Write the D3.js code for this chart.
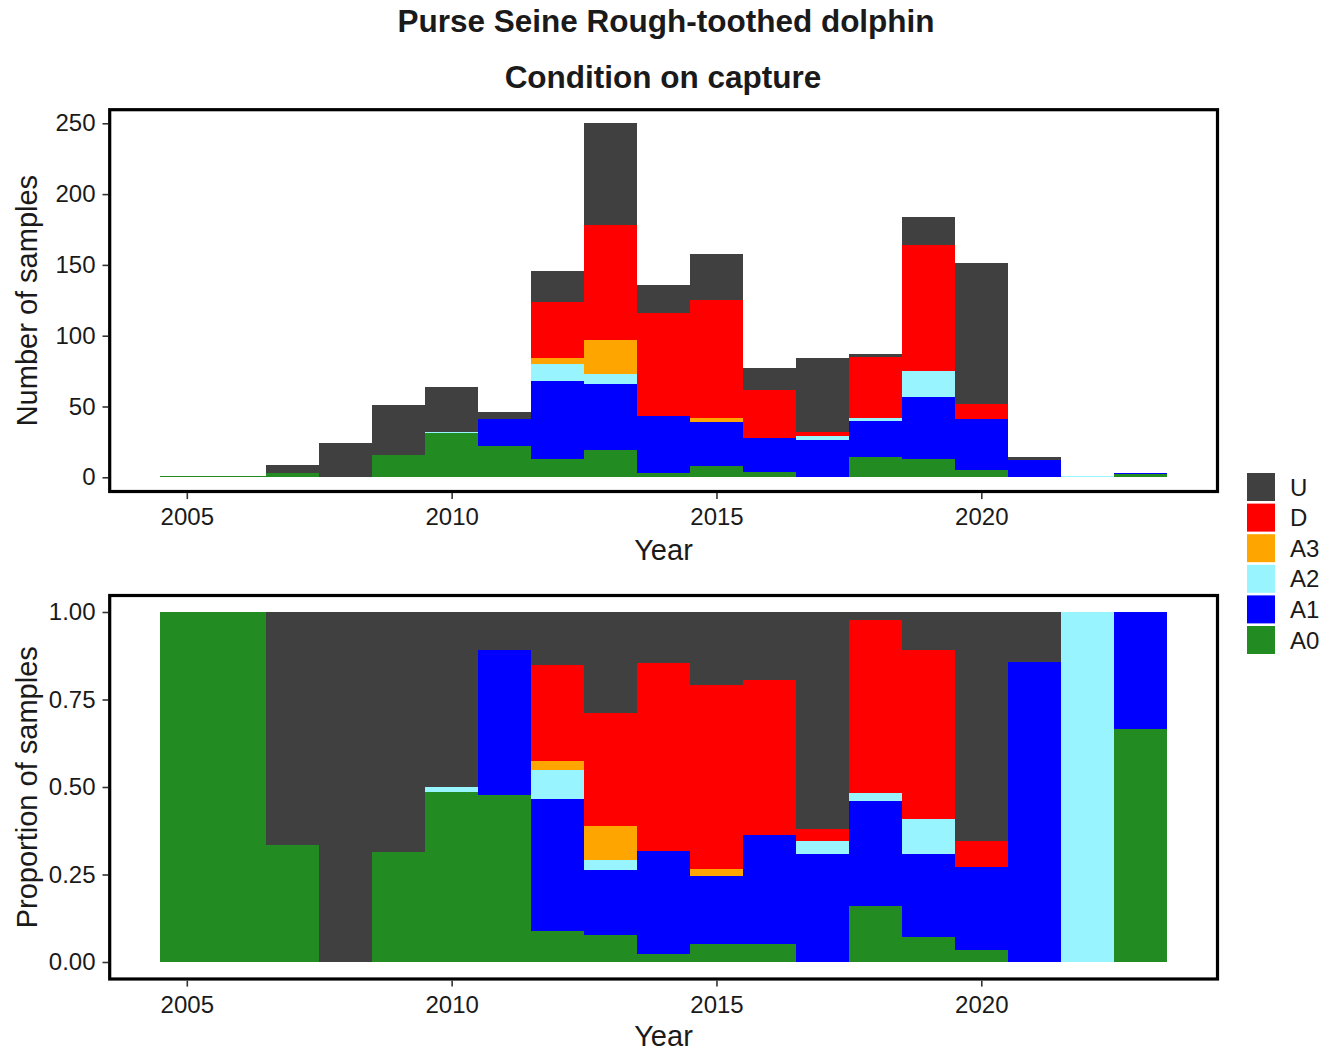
<!DOCTYPE html>
<html>
<head>
<meta charset="utf-8">
<script src="https://cdn.jsdelivr.net/npm/d3@7"></script>
<style>
  body { margin: 0; background: #fff; }
  text { font-family: "Liberation Sans", Arial, sans-serif; fill: #1a1a1a; }
</style>
</head>
<body>
<div id="chart"></div>
<script>
// counts per year, stacked bottom (A0) to top (U)
var years = [2005, 2006, 2007, 2008, 2009, 2010, 2011, 2012, 2013, 2014, 2015, 2016, 2017, 2018, 2019, 2020, 2021, 2022, 2023];
var A0 = [1, 1, 3, 0, 16, 31, 22, 13, 19, 3, 8, 4, 0, 14, 13, 5, 0, 0, 2];
var A1 = [0, 0, 0, 0, 0, 0, 19, 55, 47, 40, 31, 24, 26, 26, 44, 36, 12, 0, 1];
var A2 = [0, 0, 0, 0, 0, 1, 0, 12, 7, 0, 0, 0, 3, 2, 18, 0, 0, 1, 0];
var A3 = [0, 0, 0, 0, 0, 0, 0, 4, 24, 0, 3, 0, 0, 0, 0, 0, 0, 0, 0];
var D  = [0, 0, 0, 0, 0, 0, 0, 40, 81, 73, 83, 34, 3, 43, 89, 11, 0, 0, 0];
var U  = [0, 0, 6, 24, 35, 32, 5, 22, 72, 20, 33, 15, 52, 2, 20, 99, 2, 0, 0];

var conditions = ["A0", "A1", "A2", "A3", "D", "U"];
var condColors = ["#228B22", "#0000FF", "#98F5FF", "#FFA500", "#FF0000", "#404040"];
var xTicks = [2005, 2010, 2015, 2020];
var countTicks = [0, 50, 100, 150, 200, 250];
var propTicks = [0, 0.25, 0.5, 0.75, 1];

var series = {A0: A0, A1: A1, A2: A2, A3: A3, D: D, U: U};
var data = years.map(function(yr, i) {
    var row = {year: yr};
    conditions.forEach(function(c) { row[c] = series[c][i]; });
    return row;
});

var width = 1328, height = 1054;
var svg = d3.select("#chart").append("svg")
    .attr("width", width)
    .attr("height", height);

var color = d3.scaleOrdinal().domain(conditions).range(condColors);

var x = d3.scaleLinear()
    .domain([2003.55, 2024.45])
    .range([110, 1217]);

// panel boxes (border centres)
var panels = [
    {top: 109.7, bottom: 491.5, y: d3.scaleLinear().domain([0, 250]).range([477.3, 123.3]),
     ticks: countTicks, fmt: d3.format("d"), offset: d3.stackOffsetNone,
     ylab: "Number of samples", xlabY: 560},
    {top: 595.5, bottom: 979, y: d3.scaleLinear().domain([0, 1]).range([962, 612]),
     ticks: propTicks, fmt: d3.format(".2f"), offset: d3.stackOffsetExpand,
     ylab: "Proportion of samples", xlabY: 1046}
];

panels.forEach(function(p) {
    var stacked = d3.stack().keys(conditions).offset(p.offset)(data);
    var g = svg.append("g");

    g.selectAll("g.layer")
        .data(stacked)
        .enter()
        .append("g")
        .attr("class", "layer")
        .attr("fill", function(d) { return color(d.key); })
        .attr("shape-rendering", "crispEdges")
        .selectAll("rect")
        .data(function(d) { return d.filter(function(s) { return s[1] - s[0] > 0; }); })
        .enter()
        .append("rect")
        .attr("x", function(d) { return x(d.data.year - 0.5); })
        .attr("width", function(d) { return x(d.data.year + 0.5) - x(d.data.year - 0.5); })
        .attr("y", function(d) { return p.y(d[1]); })
        .attr("height", function(d) { return Math.max(1, p.y(d[0]) - p.y(d[1])); });

    // panel border
    svg.append("rect")
        .attr("x", 109.7)
        .attr("y", p.top)
        .attr("width", 1217.5 - 109.7)
        .attr("height", p.bottom - p.top)
        .attr("fill", "none")
        .attr("stroke", "#000")
        .attr("stroke-width", 3.2);

    // y axis
    var yAxis = svg.append("g")
        .attr("transform", "translate(108,0)")
        .call(d3.axisLeft(p.y).tickValues(p.ticks).tickFormat(p.fmt).tickSize(5.5).tickPadding(7));
    yAxis.select(".domain").remove();
    yAxis.selectAll("line").attr("stroke", "#333").attr("stroke-width", 1.6);
    yAxis.selectAll("text").style("font-size", "24px").attr("fill", "#1a1a1a");

    // x axis
    var xAxis = svg.append("g")
        .attr("transform", "translate(0," + (p.bottom + 1.6) + ")")
        .call(d3.axisBottom(x).tickValues(xTicks).tickFormat(d3.format("d")).tickSize(6).tickPadding(9));
    xAxis.select(".domain").remove();
    xAxis.selectAll("line").attr("stroke", "#333").attr("stroke-width", 1.6);
    xAxis.selectAll("text").style("font-size", "24px").attr("fill", "#1a1a1a");

    // axis titles
    svg.append("text")
        .attr("x", 663.5)
        .attr("y", p.xlabY)
        .attr("text-anchor", "middle")
        .style("font-size", "29px")
        .text("Year");

    svg.append("text")
        .attr("transform", "translate(37," + ((p.top + p.bottom) / 2) + ") rotate(-90)")
        .attr("text-anchor", "middle")
        .style("font-size", "29px")
        .text(p.ylab);
});

// titles
svg.append("text")
    .attr("x", 666)
    .attr("y", 32)
    .attr("text-anchor", "middle")
    .style("font-size", "31.5px")
    .style("font-weight", "bold")
    .text("Purse Seine Rough-toothed dolphin");

svg.append("text")
    .attr("x", 663)
    .attr("y", 88)
    .attr("text-anchor", "middle")
    .style("font-size", "31.5px")
    .style("font-weight", "bold")
    .text("Condition on capture");

// legend, U on top
var legendKeys = conditions.slice().reverse();
var legend = svg.append("g").attr("transform", "translate(1247,473)");
var item = legend.selectAll("g")
    .data(legendKeys)
    .enter()
    .append("g")
    .attr("transform", function(d, i) { return "translate(0," + (i * 30.6) + ")"; });
item.append("rect")
    .attr("width", 28)
    .attr("height", 28)
    .attr("fill", function(d) { return color(d); });
item.append("text")
    .attr("x", 43)
    .attr("y", 14)
    .attr("dy", "0.36em")
    .style("font-size", "24px")
    .text(function(d) { return d; });
</script>
</body>
</html>
